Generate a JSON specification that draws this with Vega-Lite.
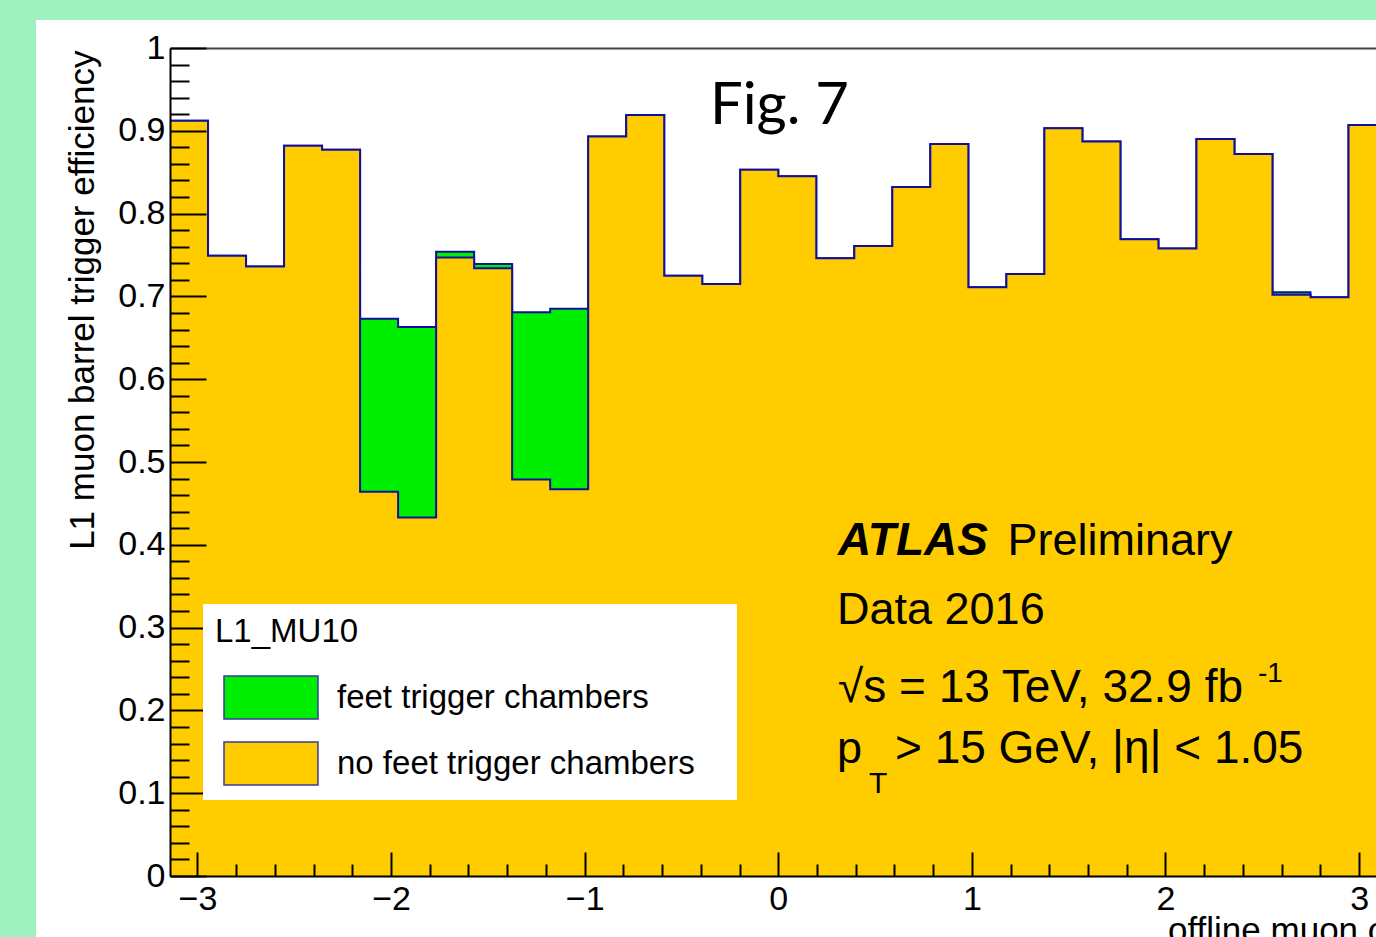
{
  "$schema": "https://vega.github.io/schema/vega-lite/v6.json",
  "autosize": "none",
  "width": 1206,
  "height": 828,
  "padding": {"left": 170, "top": 48, "right": 0, "bottom": 61},
  "background": "#9ff1c0",
  "config": {"view": {"stroke": null, "fill": null}, "font": "Liberation Sans"},
  "layer": [
    {
      "data": {"values": [{}]},
      "mark": {"type": "rect", "color": "#ffffff", "clip": false},
      "encoding": {
        "x": {
          "datum": -3.8337,
          "type": "quantitative",
          "scale": {"domain": [-3.14159, 3.0872], "nice": false, "zero": false},
          "axis": {
            "orient": "bottom",
            "zindex": 1,
            "tickCount": 1000,
            "values": [-3, -2.8, -2.6, -2.4, -2.2, -2, -1.8, -1.6, -1.4, -1.2, -1, -0.8, -0.6, -0.4, -0.2, 0, 0.2, 0.4, 0.6, 0.8, 1, 1.2, 1.4, 1.6, 1.8, 2, 2.2, 2.4, 2.6, 2.8, 3],
            "domain": true, "domainColor": "#000000", "domainWidth": 2,
            "ticks": true, "tickColor": "#000000", "tickWidth": 2,
            "tickSize": {"condition": {"test": "round(datum.value*10) % 10 == 0", "value": -24}, "value": -12},
            "labelExpr": "round(datum.value*10) % 10 == 0 ? format(datum.value, '~g') : ''",
            "labelFont": "Liberation Sans", "labelFontSize": 34, "labelColor": "#000000",
            "labelPadding": 30, "labelOverlap": false, "labelFlush": false, "labelBound": false,
            "grid": false,
            "title": "offline muon φ",
            "titleFont": "Liberation Sans", "titleFontSize": 35, "titleFontWeight": "normal", "titleColor": "#000000",
            "titleAlign": "right", "titleBaseline": "alphabetic", "titleAnchor": "end",
            "titleX": 1220, "titleY": 65
          }
        },
        "x2": {"datum": 3.6},
        "y": {
          "datum": 1.0338,
          "type": "quantitative",
          "scale": {"domain": [0, 1], "nice": false, "zero": false},
          "axis": {
            "orient": "left",
            "zindex": 1,
            "tickCount": 1000,
            "values": [0, 0.02, 0.04, 0.06, 0.08, 0.1, 0.12, 0.14, 0.16, 0.18, 0.2, 0.22, 0.24, 0.26, 0.28, 0.3, 0.32, 0.34, 0.36, 0.38, 0.4, 0.42, 0.44, 0.46, 0.48, 0.5, 0.52, 0.54, 0.56, 0.58, 0.6, 0.62, 0.64, 0.66, 0.68, 0.7, 0.72, 0.74, 0.76, 0.78, 0.8, 0.82, 0.84, 0.86, 0.88, 0.9, 0.92, 0.94, 0.96, 0.98, 1],
            "domain": true, "domainColor": "#000000", "domainWidth": 2,
            "ticks": true, "tickColor": "#000000", "tickWidth": 2,
            "tickSize": {"condition": {"test": "round(datum.value*100) % 10 == 0", "value": -36}, "value": -19},
            "labelExpr": "round(datum.value*100) % 10 == 0 ? format(datum.value, '~g') : ''",
            "labelFont": "Liberation Sans", "labelFontSize": 34, "labelColor": "#000000",
            "labelPadding": 41, "labelOverlap": false, "labelFlush": false, "labelBound": false,
            "grid": true, "gridColor": "#444444", "gridWidth": 2,
            "gridOpacity": {"condition": {"test": "datum.value == 1", "value": 1}, "value": 0},
            "title": "L1 muon barrel trigger efficiency",
            "titleFont": "Liberation Sans", "titleFontSize": 35, "titleFontWeight": "normal", "titleColor": "#000000",
            "titleAngle": 270, "titleAlign": "right", "titleBaseline": "alphabetic", "titleAnchor": "end",
            "titleX": -77, "titleY": 2
          }
        },
        "y2": {"datum": -0.2}
      }
    },
    {
      "data": {
        "values": [
          {"lo": -3.14159, "hi": -2.94524, "feet": 0.912, "nofeet": 0.912},
          {"lo": -2.94524, "hi": -2.74889, "feet": 0.749, "nofeet": 0.749},
          {"lo": -2.74889, "hi": -2.55254, "feet": 0.736, "nofeet": 0.736},
          {"lo": -2.55254, "hi": -2.35619, "feet": 0.882, "nofeet": 0.882},
          {"lo": -2.35619, "hi": -2.15984, "feet": 0.877, "nofeet": 0.877},
          {"lo": -2.15984, "hi": -1.9635, "feet": 0.673, "nofeet": 0.464},
          {"lo": -1.9635, "hi": -1.76715, "feet": 0.663, "nofeet": 0.433},
          {"lo": -1.76715, "hi": -1.5708, "feet": 0.754, "nofeet": 0.747},
          {"lo": -1.5708, "hi": -1.37445, "feet": 0.739, "nofeet": 0.734},
          {"lo": -1.37445, "hi": -1.1781, "feet": 0.681, "nofeet": 0.479},
          {"lo": -1.1781, "hi": -0.98175, "feet": 0.685, "nofeet": 0.467},
          {"lo": -0.98175, "hi": -0.7854, "feet": 0.893, "nofeet": 0.893},
          {"lo": -0.7854, "hi": -0.58905, "feet": 0.919, "nofeet": 0.919},
          {"lo": -0.58905, "hi": -0.3927, "feet": 0.725, "nofeet": 0.725},
          {"lo": -0.3927, "hi": -0.19635, "feet": 0.715, "nofeet": 0.715},
          {"lo": -0.19635, "hi": 0, "feet": 0.853, "nofeet": 0.853},
          {"lo": 0, "hi": 0.19635, "feet": 0.845, "nofeet": 0.845},
          {"lo": 0.19635, "hi": 0.3927, "feet": 0.746, "nofeet": 0.746},
          {"lo": 0.3927, "hi": 0.58905, "feet": 0.761, "nofeet": 0.761},
          {"lo": 0.58905, "hi": 0.7854, "feet": 0.832, "nofeet": 0.832},
          {"lo": 0.7854, "hi": 0.98175, "feet": 0.884, "nofeet": 0.884},
          {"lo": 0.98175, "hi": 1.1781, "feet": 0.711, "nofeet": 0.711},
          {"lo": 1.1781, "hi": 1.37445, "feet": 0.727, "nofeet": 0.727},
          {"lo": 1.37445, "hi": 1.5708, "feet": 0.903, "nofeet": 0.903},
          {"lo": 1.5708, "hi": 1.76715, "feet": 0.887, "nofeet": 0.887},
          {"lo": 1.76715, "hi": 1.9635, "feet": 0.769, "nofeet": 0.769},
          {"lo": 1.9635, "hi": 2.15984, "feet": 0.758, "nofeet": 0.758},
          {"lo": 2.15984, "hi": 2.35619, "feet": 0.89, "nofeet": 0.89},
          {"lo": 2.35619, "hi": 2.55254, "feet": 0.872, "nofeet": 0.872},
          {"lo": 2.55254, "hi": 2.74889, "feet": 0.705, "nofeet": 0.702},
          {"lo": 2.74889, "hi": 2.94524, "feet": 0.699, "nofeet": 0.699},
          {"lo": 2.94524, "hi": 3.14159, "feet": 0.907, "nofeet": 0.907}
        ]
      },
      "transform": [{"fold": ["lo", "hi"], "as": ["edge", "phi"]}],
      "layer": [
        {
          "mark": {"type": "area", "clip": true, "orient": "vertical", "interpolate": "linear", "fillOpacity": 1},
          "encoding": {
            "x": {"field": "phi", "type": "quantitative"},
            "y": {"field": "feet", "type": "quantitative", "stack": null},
            "fill": {
              "datum": "feet trigger chambers",
              "type": "nominal",
              "scale": {"domain": ["feet trigger chambers", "no feet trigger chambers"], "range": ["#00ee00", "#ffcc00"]},
              "legend": {
                "orient": "none", "legendX": 33, "legendY": 556, "zindex": 2,
                "title": "L1_MU10",
                "titleFont": "Liberation Sans", "titleFontSize": 33, "titleFontWeight": "normal", "titleColor": "#000000",
                "titleLimit": 1000, "titlePadding": 26,
                "labelFont": "Liberation Sans", "labelFontSize": 33, "labelColor": "#000000", "labelLimit": 1000,
                "labelOffset": 43.5,
                "labelExpr": "datum.label + '\u00a0\u00a0\u00a0\u200a\u200b'",
                "symbolType": "M-2.186,-1H2.186V1H-2.186Z", "symbolSize": 1849,
                "symbolStrokeColor": "#3a3aa0", "symbolStrokeWidth": 1.5, "symbolOpacity": 1, "symbolOffset": 33.5,
                "fillColor": "#ffffff", "padding": 12, "rowPadding": 17
              }
            }
          }
        },
        {
          "mark": {"type": "line", "clip": true, "color": "#10109a", "strokeWidth": 2, "strokeJoin": "miter"},
          "encoding": {
            "x": {"field": "phi", "type": "quantitative"},
            "y": {"field": "feet", "type": "quantitative"}
          }
        },
        {
          "mark": {"type": "area", "clip": true, "orient": "vertical", "interpolate": "linear", "fillOpacity": 1},
          "encoding": {
            "x": {"field": "phi", "type": "quantitative"},
            "y": {"field": "nofeet", "type": "quantitative", "stack": null},
            "fill": {"datum": "no feet trigger chambers", "type": "nominal"}
          }
        },
        {
          "mark": {"type": "line", "clip": true, "color": "#10109a", "strokeWidth": 2, "strokeJoin": "miter"},
          "encoding": {
            "x": {"field": "phi", "type": "quantitative"},
            "y": {"field": "nofeet", "type": "quantitative"}
          }
        }
      ]
    },
    {
      "data": {"values": [{}]},
      "mark": {"type": "text", "text": "Fig. 7", "font": "Lato", "fontSize": 58, "align": "left", "baseline": "alphabetic", "color": "#000000"},
      "encoding": {"x": {"datum": -0.3526}, "y": {"datum": 0.9082}}
    },
    {
      "data": {"values": [{}]},
      "mark": {"type": "text", "text": "ATLAS", "font": "Liberation Sans", "fontSize": 46, "fontWeight": "bold", "fontStyle": "italic", "align": "left", "baseline": "alphabetic", "color": "#000000"},
      "encoding": {"x": {"datum": 0.3085}, "y": {"datum": 0.3877}}
    },
    {
      "data": {"values": [{}]},
      "mark": {"type": "text", "text": "Preliminary", "font": "Liberation Sans", "fontSize": 45, "align": "left", "baseline": "alphabetic", "color": "#000000"},
      "encoding": {"x": {"datum": 1.1839}, "y": {"datum": 0.3877}}
    },
    {
      "data": {"values": [{}]},
      "mark": {"type": "text", "text": "Data 2016", "font": "Liberation Sans", "fontSize": 45, "align": "left", "baseline": "alphabetic", "color": "#000000"},
      "encoding": {"x": {"datum": 0.3033}, "y": {"datum": 0.304}}
    },
    {
      "data": {"values": [{}]},
      "mark": {"type": "text", "text": "√s = 13 TeV, 32.9 fb", "font": "Liberation Sans", "fontSize": 46, "align": "left", "baseline": "alphabetic", "color": "#000000"},
      "encoding": {"x": {"datum": 0.3085}, "y": {"datum": 0.2105}}
    },
    {
      "data": {"values": [{}]},
      "mark": {"type": "text", "text": "-1", "font": "Liberation Sans", "fontSize": 28, "align": "left", "baseline": "alphabetic", "color": "#000000"},
      "encoding": {"x": {"datum": 2.4776}, "y": {"datum": 0.2343}}
    },
    {
      "data": {"values": [{}]},
      "mark": {"type": "text", "text": "p", "font": "Liberation Sans", "fontSize": 45, "align": "left", "baseline": "alphabetic", "color": "#000000"},
      "encoding": {"x": {"datum": 0.3033}, "y": {"datum": 0.1361}}
    },
    {
      "data": {"values": [{}]},
      "mark": {"type": "text", "text": "T", "font": "Liberation Sans", "fontSize": 30, "align": "left", "baseline": "alphabetic", "color": "#000000"},
      "encoding": {"x": {"datum": 0.4686}, "y": {"datum": 0.1002}}
    },
    {
      "data": {"values": [{}]},
      "mark": {"type": "text", "text": "> 15 GeV, |η| < 1.05", "font": "Liberation Sans", "fontSize": 46, "align": "left", "baseline": "alphabetic", "color": "#000000"},
      "encoding": {"x": {"datum": 0.6029}, "y": {"datum": 0.1361}}
    }
  ]
}
